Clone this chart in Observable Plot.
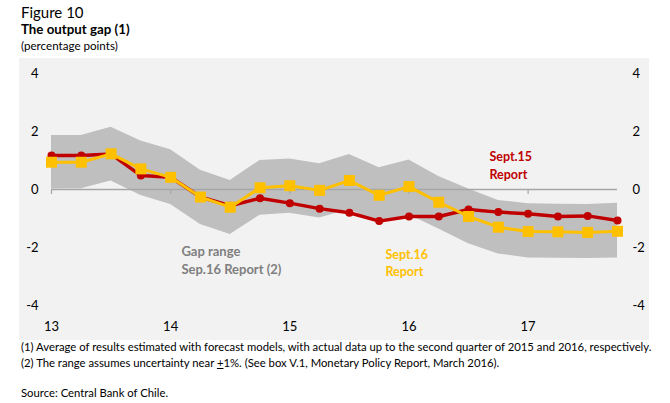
<!DOCTYPE html>
<html>
<head>
<meta charset="utf-8">
<script src="https://cdn.jsdelivr.net/npm/d3@7"></script>
<script src="https://cdn.jsdelivr.net/npm/@observablehq/plot@0.6"></script>
<style>
  body { margin: 0; background: #fff; font-family: Lato, "Open Sans", sans-serif; color: #000; }
  #wrap { position: relative; width: 670px; height: 403px; overflow: hidden; }
  .txt { position: absolute; white-space: nowrap; line-height: 1.2; }
  #panel { position: absolute; left: 19px; top: 58px; width: 630px; height: 282px; background: #f2f2f2; }
  #panel svg { display: block; }
</style>
</head>
<body>
<div id="wrap">
  <div class="txt" style="left:21px;top:3px;font-size:15px;">Figure 10</div>
  <div class="txt" style="left:21px;top:22px;font-size:13.3px;font-weight:bold;">The output gap (1)</div>
  <div class="txt" style="left:21px;top:39px;font-size:11.6px;">(percentage points)</div>
  <div id="panel"></div>
  <div class="txt" style="left:21px;top:340px;font-size:11.3px;">(1) Average of results estimated with forecast models, with actual data up to the second quarter of 2015 and 2016, respectively.</div>
  <div class="txt" style="left:21px;top:356px;font-size:11.3px;">(2) The range assumes uncertainty near <span style="text-decoration:underline">+</span>1%. (See box V.1, Monetary Policy Report, March 2016).</div>
  <div class="txt" style="left:21px;top:386px;font-size:11.3px;">Source: Central Bank of Chile.</div>
</div>
<script>
// Quarters 2013Q1 .. 2017Q4
const quarters = ["13Q1","13Q2","13Q3","13Q4","14Q1","14Q2","14Q3","14Q4","15Q1","15Q2","15Q3","15Q4","16Q1","16Q2","16Q3","16Q4","17Q1","17Q2","17Q3","17Q4"];
// Sept.15 Report
const sep15 = [1.17,1.17,1.22,0.48,0.42,-0.26,-0.56,-0.30,-0.47,-0.66,-0.80,-1.09,-0.93,-0.93,-0.69,-0.78,-0.84,-0.93,-0.91,-1.07];
// Sept.16 Report
const sep16 = [0.94,0.94,1.23,0.71,0.42,-0.26,-0.61,0.06,0.13,-0.03,0.31,-0.20,0.10,-0.44,-0.93,-1.30,-1.45,-1.46,-1.48,-1.44];
// Gap range Sep.16 Report
const bandHigh = [1.86,1.86,2.15,1.67,1.37,0.66,0.31,1.00,1.05,0.89,1.21,0.75,1.02,0.45,0.02,-0.38,-0.49,-0.51,-0.52,-0.47];
const bandLow  = [0.02,0.03,0.29,-0.21,-0.52,-1.21,-1.55,-0.89,-0.82,-0.98,-0.69,-1.15,-0.87,-1.36,-1.87,-2.22,-2.36,-2.37,-2.38,-2.36];
const yTicks = [-4,-2,0,2,4];
const yearLabels = ["13","14","15","16","17"];
const notes = [
  {text: "Sept.15\nReport", q: 14.7, v: 0.86, color: "#c00000", size: 12.5},
  {text: "Gap range\nSep.16 Report (2)", q: 4.36, v: -2.39, color: "#7f7f7f", size: 13},
  {text: "Sept.16\nReport", q: 11.21, v: -2.51, color: "#ffc000", size: 12.5}
];

const data = quarters.map((q, i) => ({i, q, s15: sep15[i], s16: sep16[i], lo: bandLow[i], hi: bandHigh[i]}));
const yearIdx = quarters.map((q, i) => q.endsWith("Q1") ? i : null).filter(d => d !== null);
const yearOf = i => yearLabels[yearIdx.indexOf(i)];
const fmt = d => String(d);

const chart = Plot.plot({
  width: 630, height: 282,
  marginLeft: 32, marginRight: 32, marginTop: 15, marginBottom: 35,
  style: {background: "transparent", fontFamily: "Lato, sans-serif", fontSize: "13px", color: "#000", overflow: "visible"},
  x: {domain: [0, quarters.length - 1]},
  y: {domain: [-4, 4]},
  marks: [
    Plot.areaY(data, {x: "i", y1: "lo", y2: "hi", fill: "#bfbfbf"}),
    Plot.ruleY([0], {stroke: "#a6a6a6", strokeWidth: 1.5}),
    Plot.ruleX(yearIdx, {x: d => d, y1: 0, y2: 0, insetBottom: -5, stroke: "#a6a6a6", strokeWidth: 1.2}),
    Plot.line(data, {x: "i", y: "s15", stroke: "#c00000", strokeWidth: 3.5}),
    Plot.dot(data, {x: "i", y: "s15", r: 4, fill: "#c00000"}),
    Plot.line(data, {x: "i", y: "s16", stroke: "#ffc000", strokeWidth: 3}),
    Plot.dot(data, {x: "i", y: "s16", r: 6.2, symbol: "square", fill: "#ffc000"}),
    Plot.axisY(yTicks, {anchor: "left", tickSize: 0, tickPadding: 13, tickFormat: fmt, fill: "#000"}),
    Plot.axisY(yTicks, {anchor: "right", tickSize: 0, tickPadding: 15, tickFormat: fmt, fill: "#000"}),
    Plot.axisX(yearIdx, {anchor: "bottom", tickSize: 0, tickPadding: 16, tickFormat: yearOf, fill: "#000"}),
    Plot.text(notes, {x: "q", y: "v", text: "text", fill: "color", textAnchor: "start", lineAnchor: "middle", lineHeight: 1.38, fontWeight: "bold", fontSize: "size"})
  ]
});
document.getElementById("panel").appendChild(chart);
</script>
</body>
</html>
